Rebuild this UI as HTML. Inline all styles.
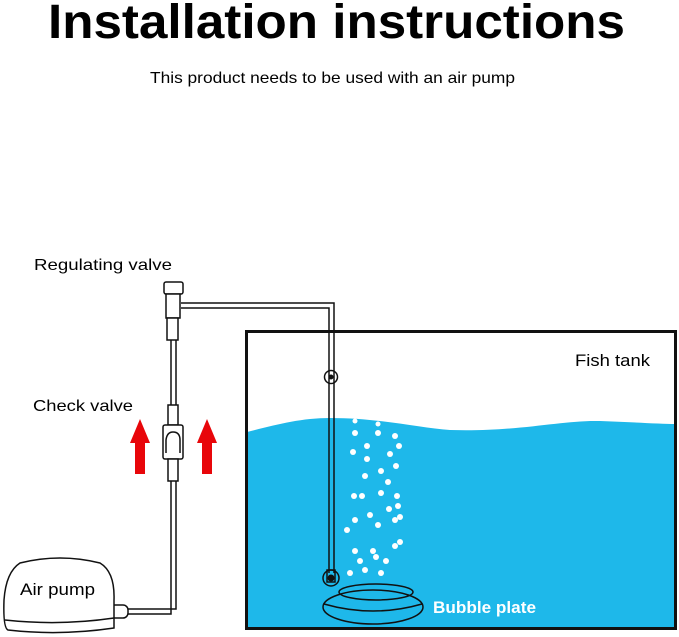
<!DOCTYPE html>
<html><head><style>body{margin:0;background:#fff}svg{display:block}</style></head>
<body>
<svg width="679" height="637" viewBox="0 0 679 637" xmlns="http://www.w3.org/2000/svg" font-family="Liberation Sans, Arial, sans-serif">
<text x="48" y="38" font-size="48" font-weight="bold" textLength="577" lengthAdjust="spacingAndGlyphs">Installation instructions</text>
<text x="150" y="83" font-size="16" textLength="365" lengthAdjust="spacingAndGlyphs">This product needs to be used with an air pump</text>
<text x="34" y="270" font-size="16" textLength="138" lengthAdjust="spacingAndGlyphs">Regulating valve</text>
<text x="33" y="411" font-size="16" textLength="100" lengthAdjust="spacingAndGlyphs">Check valve</text>
<!-- tank -->
<path d="M247,432 C275,425 300,418 330,418 C380,418 420,428 450,430 C520,432 560,420 600,421 C630,422 660,424 675,424 L675,628 L247,628 Z" fill="#1eb8ea"/>
<rect x="246.5" y="331.5" width="429" height="297" fill="none" stroke="#111" stroke-width="3"/>
<text x="575" y="366" font-size="17" textLength="75" lengthAdjust="spacingAndGlyphs">Fish tank</text>
<!-- bubbles -->
<g fill="#fff">
<circle cx="355" cy="433" r="3"/><circle cx="378" cy="433" r="3"/><circle cx="395" cy="436" r="3"/>
<circle cx="367" cy="446" r="3"/><circle cx="399" cy="446" r="3"/><circle cx="353" cy="452" r="3"/>
<circle cx="367" cy="459" r="3"/><circle cx="390" cy="454" r="3"/><circle cx="396" cy="466" r="3"/>
<circle cx="365" cy="476" r="3"/><circle cx="381" cy="471" r="3"/><circle cx="388" cy="482" r="3"/>
<circle cx="354" cy="496" r="3"/><circle cx="362" cy="496" r="3"/><circle cx="381" cy="493" r="3"/>
<circle cx="397" cy="496" r="3"/><circle cx="398" cy="506" r="3"/><circle cx="389" cy="509" r="3"/>
<circle cx="370" cy="515" r="3"/><circle cx="355" cy="520" r="3"/><circle cx="395" cy="520" r="3"/>
<circle cx="400" cy="517" r="3"/><circle cx="378" cy="525" r="3"/><circle cx="347" cy="530" r="3"/>
<circle cx="400" cy="542" r="3"/><circle cx="395" cy="546" r="3"/><circle cx="355" cy="551" r="3"/>
<circle cx="373" cy="551" r="3"/><circle cx="376" cy="557" r="3"/><circle cx="360" cy="561" r="3"/>
<circle cx="386" cy="561" r="3"/><circle cx="350" cy="573" r="3"/><circle cx="365" cy="570" r="3"/>
<circle cx="381" cy="573" r="3"/><circle cx="355" cy="421" r="2.5"/><circle cx="378" cy="424" r="2.5"/>
</g>
<!-- bubble plate -->
<g fill="none" stroke="#111" stroke-width="1.5">
<ellipse cx="373" cy="607" rx="50" ry="17"/>
<ellipse cx="376" cy="592" rx="37" ry="8"/>
<path d="M324,604 Q373,618 422,604"/>
</g>
<text x="433" y="613" font-size="17" font-weight="bold" fill="#fff" textLength="103" lengthAdjust="spacingAndGlyphs">Bubble plate</text>
<!-- right tube -->
<g fill="none" stroke="#111" stroke-width="1.5">
<path d="M329,573 L329,308 L181,308"/>
<path d="M334,573 L334,303 L181,303"/>
<circle cx="331" cy="377" r="6.5"/>
<circle cx="331" cy="578" r="8"/>
<rect x="327" y="570" width="8" height="12"/>
</g>
<circle cx="331" cy="377" r="2.5" fill="#111"/>
<circle cx="331" cy="578" r="3.5" fill="#111"/>
<!-- left tube and valves -->
<g fill="#fff" stroke="#111" stroke-width="1.5">
<path d="M171,340 L171,614 L125,614" fill="none"/>
<path d="M176,340 L176,609 L125,609" fill="none"/>
<rect x="164" y="282" width="19" height="12" rx="2"/>
<rect x="166" y="294" width="14" height="24"/>
<rect x="167" y="318" width="11" height="22"/>
<rect x="168" y="405" width="10" height="20"/>
<rect x="163" y="425" width="20" height="34" rx="2"/>
<path d="M166,453 L166,440 Q167,432 173,432 Q180,432 180,440 L180,453" fill="none"/>
<rect x="168" y="459" width="10" height="22"/>
</g>
<!-- arrows -->
<g fill="#e8060a">
<path d="M135,474 L135,443 L130,443 L140,419 L150,443 L145,443 L145,474 Z"/>
<path d="M202,474 L202,443 L197,443 L207,419 L217,443 L212,443 L212,474 Z"/>
</g>
<!-- air pump -->
<g fill="#fff" stroke="#111" stroke-width="1.5">
<rect x="110" y="605" width="18" height="13" rx="5"/>
<path d="M8,630 Q3,628 4,600 Q6,572 20,563 Q60,553 100,563 Q115,572 114,600 L114,628 Q60,636 8,630 Z"/>
<path d="M5,620 Q60,626 114,618" fill="none"/>
</g>
<text x="20" y="595" font-size="17" textLength="75" lengthAdjust="spacingAndGlyphs">Air pump</text>
</svg>
</body></html>
